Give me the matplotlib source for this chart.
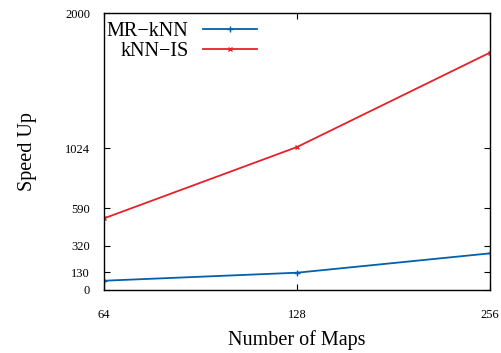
import matplotlib
matplotlib.use("Agg")
import matplotlib.pyplot as plt
from matplotlib.ticker import FixedLocator, NullLocator

# --- data ---
maps = [64, 128, 256]
mr_knn = [67, 125, 265]
knn_is = [518, 1034, 1717]
y_ticks = [0, 130, 320, 590, 1024, 2000]

plt.rcParams["font.family"] = ["Liberation Serif", "DejaVu Serif"]

fig = plt.figure(figsize=(5.01, 3.53), dpi=100)
ax = fig.add_axes([0.2076, 0.1785, 0.978 - 0.2076, 0.9618 - 0.1785])

ax.plot(maps, mr_knn, color="#0060ad", lw=1.3, marker="+", ms=4, mew=1.0,
        label="MR\u2212kNN")
ax.plot(maps, knn_is, color="#e8202a", lw=1.3, marker="x", ms=3.5, mew=1.0,
        label="kNN\u2212IS")

ax.set_xscale("log", base=2)
ax.set_xlim(64, 256)
ax.set_ylim(0, 2000)
ax.xaxis.set_major_locator(FixedLocator(maps))
ax.xaxis.set_minor_locator(NullLocator())
ax.set_xticklabels([str(m) for m in maps])
ax.set_yticks(y_ticks)

ax.tick_params(axis="both", which="major", direction="in", length=4,
               width=0.8, top=True, right=True, labelsize=9)
ax.tick_params(axis="x", pad=14)
ax.tick_params(axis="y", pad=10)
for s in ax.spines.values():
    s.set_linewidth(1.0)

ax.set_xlabel("Number of Maps", fontsize=14.5, labelpad=6)
ax.set_ylabel("Speed Up", fontsize=14.5, labelpad=20)

ax.legend(loc="upper left", markerfirst=False, frameon=False, fontsize=14.5,
          handlelength=2.7, handletextpad=0.7, borderaxespad=0.0,
          borderpad=0.4, labelspacing=0.07, alignment="right",
          bbox_to_anchor=(-0.014, 1.0))

fig.savefig("out.png", dpi=100)
